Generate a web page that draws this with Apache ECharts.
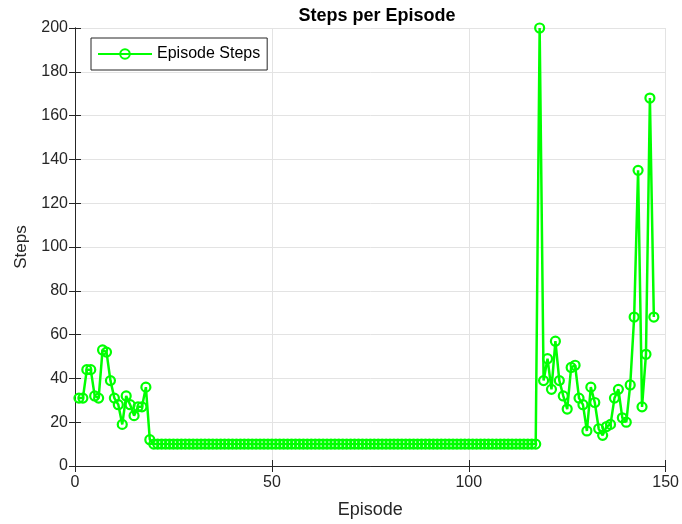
<!DOCTYPE html>
<html>
<head>
<meta charset="utf-8">
<script src="https://cdn.jsdelivr.net/npm/echarts@6/dist/echarts.min.js"></script>
<style>html,body{margin:0;padding:0;background:#fff;}#c{width:682px;height:524px;}</style>
</head>
<body>
<div id="c"></div>
<script>
const titleText = 'Steps per Episode';
const seriesName = 'Episode Steps';
const xLabel = 'Episode';
const yLabel = 'Steps';
const xTicks = [0, 50, 100, 150];
const yTicks = [0, 20, 40, 60, 80, 100, 120, 140, 160, 180, 200];
// episodes 1..19
const stepsStart = [31,31,44,44,32,31,53,52,39,31,28,19,32,28,23,27,27,36,12];
// episodes 20..117
const stepsFlat = [
10,10,10,10,10,10,10,10,10,10,
10,10,10,10,10,10,10,10,10,10,
10,10,10,10,10,10,10,10,10,10,
10,10,10,10,10,10,10,10,10,10,
10,10,10,10,10,10,10,10,10,10,
10,10,10,10,10,10,10,10,10,10,
10,10,10,10,10,10,10,10,10,10,
10,10,10,10,10,10,10,10,10,10,
10,10,10,10,10,10,10,10,10,10,
10,10,10,10,10,10,10,10
];
// episodes 118..147
const stepsEnd = [200,39,49,35,57,39,32,26,45,46,31,28,16,36,29,17,14,18,19,31,35,22,20,37,68,135,27,51,168,68];

const steps = stepsStart.concat(stepsFlat, stepsEnd);
const data = steps.map((v, i) => [i + 1, v]);

const axisColor = '#262626';
const font = 'Liberation Sans, Arial, Helvetica, sans-serif';

const chart = echarts.init(document.getElementById('c'));
chart.setOption({
  animation: false,
  backgroundColor: '#fff',
  title: {
    text: titleText, left: 372, top: 2, textAlign: 'center',
    textStyle: {fontFamily: font, fontSize: 18, fontWeight: 'bold', color: '#000'}
  },
  grid: {left: 75, right: 16, top: 28, bottom: 56, containLabel: false},
  legend: {
    left: 91, top: 38, orient: 'horizontal',
    backgroundColor: '#fff', borderColor: axisColor, borderWidth: 1, borderRadius: 0,
    padding: [8, 7, 8, 6],
    itemWidth: 54, itemHeight: 12, itemGap: 5,
    textStyle: {fontFamily: font, fontSize: 16, color: '#000'},
    data: [seriesName]
  },
  xAxis: [{
    type: 'value', min: xTicks[0], max: xTicks[xTicks.length - 1], interval: 50,
    name: xLabel, nameLocation: 'middle', nameGap: 35,
    nameTextStyle: {fontFamily: font, fontSize: 18, color: axisColor},
    axisLine: {show: true, lineStyle: {color: axisColor, width: 1}},
    axisTick: {show: true, inside: true, length: 6, lineStyle: {color: axisColor}},
    axisLabel: {fontFamily: font, fontSize: 16, color: axisColor, margin: 9},
    splitLine: {show: true, lineStyle: {color: '#e3e3e3', width: 1}}
  }, {
    type: 'value', position: 'top', min: xTicks[0], max: xTicks[xTicks.length - 1], interval: 50,
    axisLine: {show: true, lineStyle: {color: axisColor, width: 1}},
    axisTick: {show: true, inside: true, length: 6, lineStyle: {color: axisColor}},
    axisLabel: {show: false}, splitLine: {show: false}
  }],
  yAxis: [{
    type: 'value', min: yTicks[0], max: yTicks[yTicks.length - 1], interval: 20,
    name: yLabel, nameLocation: 'middle', nameGap: 45, nameRotate: 90,
    nameTextStyle: {fontFamily: font, fontSize: 17, color: axisColor},
    axisLine: {show: true, lineStyle: {color: axisColor, width: 1}},
    axisTick: {show: true, inside: true, length: 6, lineStyle: {color: axisColor}},
    axisLabel: {fontFamily: font, fontSize: 16, color: axisColor, margin: 7},
    splitLine: {show: true, lineStyle: {color: '#e3e3e3', width: 1}}
  }, {
    type: 'value', position: 'right', min: yTicks[0], max: yTicks[yTicks.length - 1], interval: 20,
    axisLine: {show: true, lineStyle: {color: axisColor, width: 1}},
    axisTick: {show: true, inside: true, length: 6, lineStyle: {color: axisColor}},
    axisLabel: {show: false}, splitLine: {show: false}
  }],
  series: [{
    name: seriesName, type: 'line', data: data,
    xAxisIndex: 0, yAxisIndex: 0,
    symbol: 'circle', symbolSize: 9, showAllSymbol: true,
    lineStyle: {color: '#00ff00', width: 2.5},
    itemStyle: {color: 'rgba(0,0,0,0)', borderColor: '#00ff00', borderWidth: 2.2},
    emphasis: {disabled: true}
  }]
});
</script>
</body>
</html>
